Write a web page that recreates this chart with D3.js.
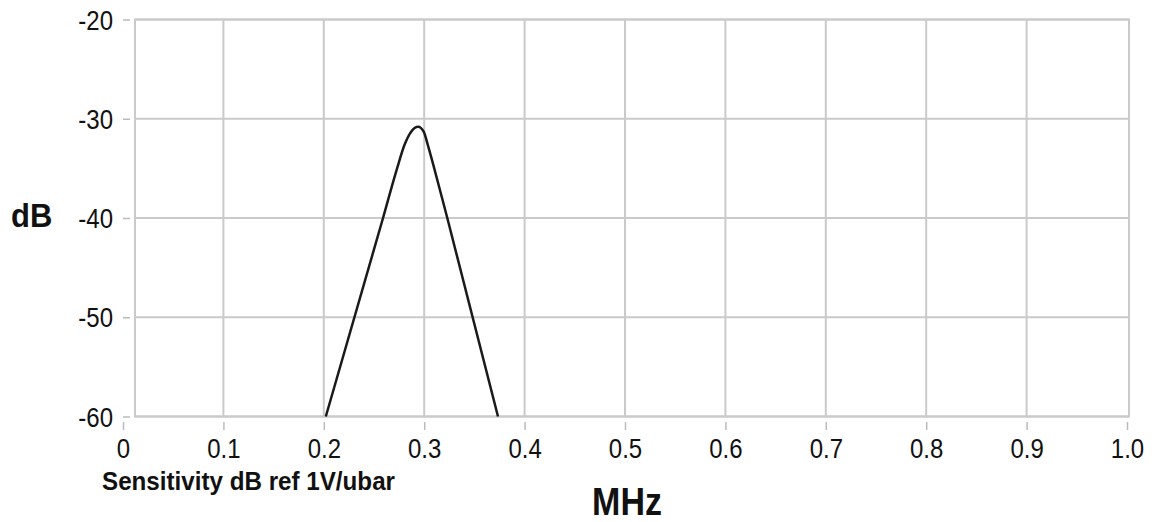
<!DOCTYPE html>
<html><head><meta charset="utf-8">
<script src="https://cdn.jsdelivr.net/npm/d3@7"></script>
<style>body{margin:0;background:#fff}svg{display:block}text{font-family:"Liberation Sans",Arial,sans-serif}</style>
</head><body>
<svg id="c" width="1159" height="522"></svg>
<script>
const xTicks = [0,0.1,0.2,0.3,0.4,0.5,0.6,0.7,0.8,0.9,1.0];
const xTickLabels = ["0","0.1","0.2","0.3","0.4","0.5","0.6","0.7","0.8","0.9","1.0"];
const yTicks = [-20,-30,-40,-50,-60];
const yTickLabels = ["-20","-30","-40","-50","-60"];
const freq = [0.202,0.259,0.273,0.2805,0.287,0.294,0.2995,0.3035,0.310,0.323,0.3735];
const dB   = [-60,-40,-35,-32.6,-31.3,-30.8,-31.3,-32.6,-35,-40,-60];

const svg = d3.select("#c");
const x = d3.scaleLinear().domain([0,1]).range([123,1127]);
const y = d3.scaleLinear().domain([-20,-60]).range([19.5,416.5]);
const frameL = 135, frameR = 1129;
const grid = "#cacaca";
const SY = 1.15;

svg.append("g").selectAll("line").data(yTicks).join("line")
  .attr("x1",frameL).attr("x2",frameR).attr("y1",d=>y(d)).attr("y2",d=>y(d))
  .attr("stroke",grid).attr("stroke-width",2);
svg.append("g").selectAll("line").data(xTicks.filter(d=>d>0&&d<1)).join("line")
  .attr("x1",d=>x(d)).attr("x2",d=>x(d)).attr("y1",y(-20)).attr("y2",y(-60))
  .attr("stroke",grid).attr("stroke-width",2);
svg.append("rect").attr("x",frameL).attr("y",y(-20)).attr("width",frameR-frameL).attr("height",y(-60)-y(-20))
  .attr("fill","none").attr("stroke",grid).attr("stroke-width",2);

// y axis
const ya = svg.append("g").attr("transform","translate(130,0)")
  .call(d3.axisLeft(y).tickValues(yTicks).tickSize(7).tickPadding(10).tickFormat((d,i)=>yTickLabels[i]));
ya.select(".domain").remove();
ya.selectAll(".tick line").attr("stroke","#bbb").attr("stroke-width",1.5);
ya.selectAll(".tick text").attr("font-size",24).attr("fill","#111")
  .attr("dy",null).attr("dominant-baseline","central").attr("transform",`scale(1,${SY})`)
  .style("font-family","'Liberation Sans',Arial,sans-serif");

// x axis
const xa = svg.append("g").attr("transform","translate(0,422)")
  .call(d3.axisBottom(x).tickValues(xTicks).tickSize(8).tickPadding(6).tickFormat((d,i)=>xTickLabels[i]));
xa.select(".domain").remove();
xa.selectAll(".tick line").attr("stroke","#bbb").attr("stroke-width",1.5);
xa.selectAll(".tick text").attr("font-size",24).attr("fill","#111")
  .attr("transform",`scale(1,${SY})`)
  .style("font-family","'Liberation Sans',Arial,sans-serif");

// curve
const pts = freq.map((f,i)=>[f,dB[i]]);
svg.append("path").datum(pts)
  .attr("d", d3.line().x(d=>x(d[0])).y(d=>y(d[1])).curve(d3.curveMonotoneX))
  .attr("fill","none").attr("stroke","#1a1a1a").attr("stroke-width",2.5);

// labels
svg.append("text").attr("transform",`translate(11,227) scale(1,1.1)`).attr("font-size",31).attr("font-weight","bold").attr("fill","#111").text("dB");
svg.append("text").attr("transform",`translate(627,515) scale(1,1.12)`).attr("text-anchor","middle").attr("font-size",34).attr("font-weight","bold").attr("fill","#111").text("MHz");
svg.append("text").attr("transform",`translate(102,490) scale(1,1.12)`).attr("font-size",23).attr("font-weight","bold").attr("fill","#111")
  .attr("textLength",293).attr("lengthAdjust","spacingAndGlyphs").text("Sensitivity dB ref 1V/ubar");
</script>
</body></html>
